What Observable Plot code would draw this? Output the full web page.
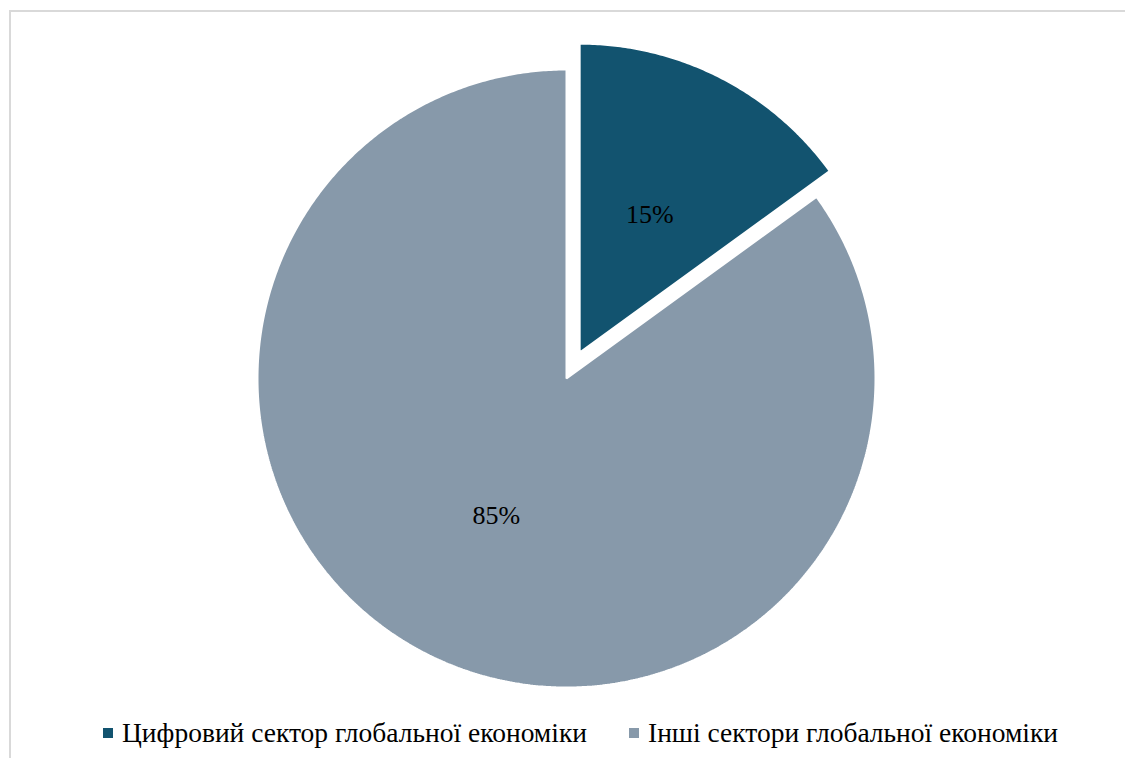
<!DOCTYPE html>
<html>
<head>
<meta charset="utf-8">
<script src="https://cdn.jsdelivr.net/npm/d3@7"></script>
<script src="https://cdn.jsdelivr.net/npm/@observablehq/plot@0.6"></script>
<style>
  html, body { margin: 0; padding: 0; background: #fff; }
  #wrap { position: relative; width: 1125px; height: 758px; overflow: hidden; }
  #frame { position: absolute; left: 9px; top: 10px; width: 1200px; height: 800px; border: 2px solid #d9d9d9; box-sizing: border-box; }
  #chart { position: absolute; left: 0; top: 0; }
  .item { position: absolute; top: 713px; display: flex; align-items: center; height: 40px; white-space: nowrap; color: #000; }
  .sw { width: 10px; height: 10px; margin-right: 9px; flex: none; }
</style>
</head>
<body style="font-family:'Liberation Serif'">
<div id="wrap">
  <div id="frame"></div>
  <div id="chart"></div>
  <div class="item" style="left:103px"><div class="sw" id="sw0"></div><span id="lg0" style="font-family:'Liberation Serif';font-size:27.5px"></span></div>
  <div class="item" style="left:629px"><div class="sw" id="sw1"></div><span id="lg1" style="font-family:'Liberation Serif';font-size:27.5px"></span></div>
</div>
<script>
const categories = ["Цифровий сектор глобальної економіки", "Інші сектори глобальної економіки"];
const shares = [15, 85];
const labels = ["15%", "85%"];
const colors = ["#12536f", "#8799aa"];
const explode = [1, 0];

const W = 1125, H = 710;
const cx = 566, cy = 378, R = 309, offset = 29;

const arcs = d3.pie().sort(null).value(d => d)(shares);
const poly = [];
const textPts = [];
arcs.forEach((a, i) => {
  const mid = (a.startAngle + a.endAngle) / 2;
  const ox = cx + explode[i] * offset * Math.sin(mid);
  const oy = cy - explode[i] * offset * Math.cos(mid);
  const n = Math.max(8, Math.ceil((a.endAngle - a.startAngle) * 120));
  poly.push({cat: categories[i], x: ox, y: oy});
  for (let k = 0; k <= n; k++) {
    const t = a.startAngle + (a.endAngle - a.startAngle) * k / n;
    poly.push({cat: categories[i], x: ox + R * Math.sin(t), y: oy - R * Math.cos(t)});
  }
  poly.push({cat: categories[i], x: ox, y: oy});
  textPts.push({label: labels[i], x: ox + 0.5 * R * Math.sin(mid), y: oy - 0.5 * R * Math.cos(mid)});
});

const plot = Plot.plot({
  width: W, height: H,
  margin: 0,
  x: {domain: [0, W], range: [0, W], axis: null},
  y: {domain: [0, H], range: [0, H], axis: null},
  color: {domain: categories, range: colors},
  style: {background: "transparent", overflow: "visible", fontFamily: "Liberation Serif", fontSize: "26px"},
  marks: [
    Plot.line(poly, {x: "x", y: "y", z: "cat", fill: "cat", stroke: "white", strokeWidth: 2, curve: "linear-closed", strokeLinejoin: "miter"}),
    Plot.text(textPts, {x: "x", y: "y", text: "label", fill: "#000", fontSize: 26})
  ]
});
document.getElementById("chart").appendChild(plot);

categories.forEach((c, i) => {
  document.getElementById("lg" + i).textContent = c;
  document.getElementById("sw" + i).style.background = colors[i];
});
</script>
</body>
</html>
